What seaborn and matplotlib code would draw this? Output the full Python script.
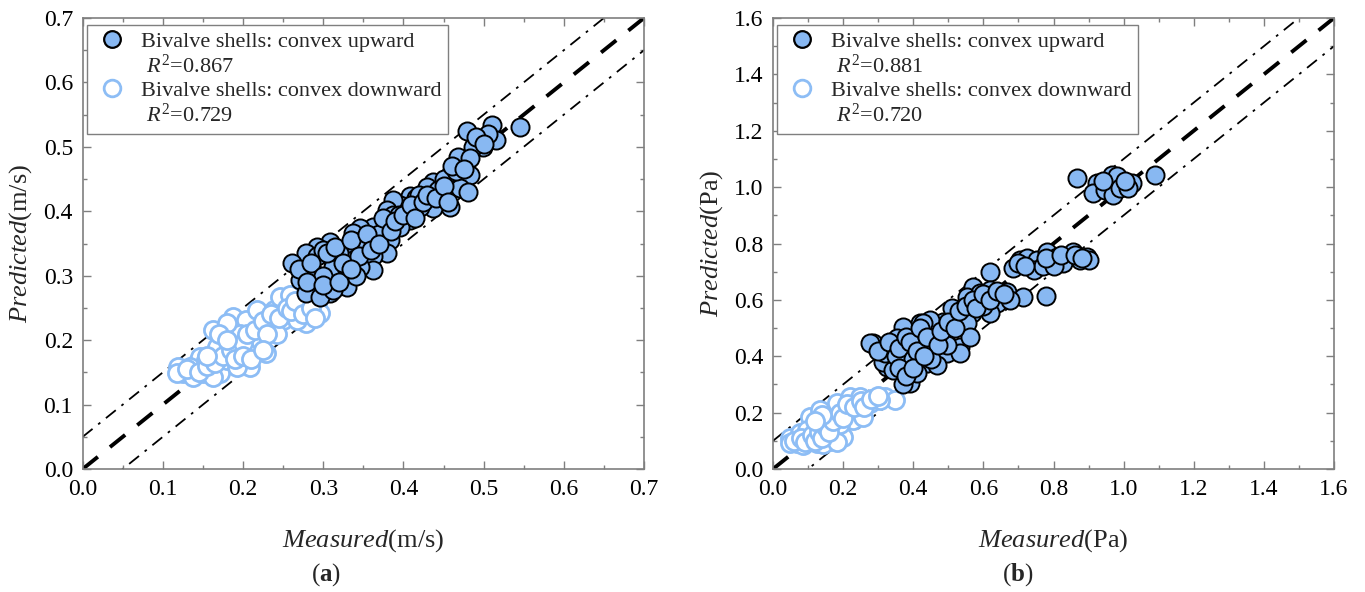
import numpy as np
import pandas as pd
import matplotlib
matplotlib.use("Agg")
import matplotlib.pyplot as plt
from matplotlib.ticker import MultipleLocator, AutoMinorLocator, FormatStrFormatter
from matplotlib.lines import Line2D
import seaborn as sns

# ---------------- data ----------------
a_up_x = [0.545, 0.479, 0.510, 0.516, 0.499, 0.487, 0.468, 0.483, 0.483, 0.458, 0.437, 0.429, 0.470, 0.480,
          0.458, 0.437, 0.421, 0.408, 0.396, 0.387, 0.379, 0.408, 0.396, 0.379, 0.362, 0.346, 0.337, 0.362,
          0.383, 0.379, 0.354, 0.329, 0.308, 0.292, 0.279, 0.292, 0.312, 0.337, 0.362, 0.362, 0.346, 0.312,
          0.288, 0.261, 0.271, 0.292, 0.312, 0.329, 0.308, 0.279, 0.341, 0.387, 0.416, 0.443, 0.450, 0.296,
          0.312, 0.300, 0.320, 0.350, 0.330, 0.370, 0.395, 0.420, 0.466, 0.505,
          0.270, 0.285, 0.300, 0.305, 0.315, 0.325, 0.335, 0.345, 0.355, 0.360, 0.370, 0.375, 0.385, 0.390,
          0.400, 0.410, 0.415, 0.425, 0.430, 0.440, 0.450, 0.455, 0.460, 0.475, 0.490, 0.500, 0.280, 0.300,
          0.320, 0.335]
a_up_y = [0.531, 0.524, 0.534, 0.511, 0.500, 0.500, 0.485, 0.482, 0.456, 0.456, 0.446, 0.438, 0.436, 0.430,
          0.407, 0.405, 0.407, 0.423, 0.410, 0.417, 0.402, 0.386, 0.376, 0.382, 0.376, 0.374, 0.366, 0.355,
          0.355, 0.335, 0.345, 0.343, 0.353, 0.345, 0.335, 0.330, 0.324, 0.324, 0.330, 0.309, 0.314, 0.314,
          0.304, 0.319, 0.293, 0.300, 0.286, 0.283, 0.273, 0.273, 0.300, 0.395, 0.420, 0.433, 0.450, 0.267,
          0.278, 0.340, 0.335, 0.355, 0.310, 0.365, 0.395, 0.425, 0.462, 0.520,
          0.310, 0.320, 0.300, 0.335, 0.345, 0.320, 0.355, 0.330, 0.365, 0.340, 0.350, 0.390, 0.370, 0.385,
          0.395, 0.410, 0.390, 0.415, 0.425, 0.420, 0.440, 0.415, 0.470, 0.465, 0.515, 0.505, 0.290, 0.285,
          0.290, 0.310]

a_down_x = [0.119, 0.125, 0.138, 0.150, 0.142, 0.159, 0.171, 0.180, 0.163, 0.188, 0.184, 0.204, 0.196, 0.209,
            0.213, 0.229, 0.217, 0.204, 0.217, 0.238, 0.246, 0.259, 0.250, 0.236, 0.271, 0.292, 0.296, 0.279,
            0.267, 0.171, 0.146, 0.134, 0.196, 0.180, 0.167, 0.221, 0.242, 0.192, 0.154, 0.163, 0.117,
            0.130, 0.145, 0.155, 0.165, 0.175, 0.185, 0.190, 0.200, 0.205, 0.215, 0.225, 0.230, 0.235,
            0.245, 0.255, 0.260, 0.265, 0.275, 0.285, 0.290, 0.170, 0.180, 0.155, 0.200, 0.210, 0.225]
a_down_y = [0.159, 0.149, 0.143, 0.149, 0.164, 0.159, 0.149, 0.169, 0.216, 0.236, 0.200, 0.185, 0.164, 0.159,
            0.190, 0.180, 0.221, 0.232, 0.247, 0.247, 0.267, 0.270, 0.231, 0.226, 0.252, 0.257, 0.242, 0.226,
            0.231, 0.180, 0.174, 0.159, 0.210, 0.226, 0.190, 0.200, 0.210, 0.159, 0.169, 0.143, 0.149,
            0.155, 0.150, 0.160, 0.165, 0.175, 0.185, 0.170, 0.195, 0.210, 0.215, 0.230, 0.210, 0.240,
            0.235, 0.250, 0.245, 0.260, 0.240, 0.250, 0.235, 0.210, 0.200, 0.175, 0.175, 0.170, 0.185]

b_up_x = [0.866, 0.923, 0.966, 0.980, 0.914, 0.947, 0.971, 0.990, 1.023, 1.013, 1.090, 1.003,
          0.685, 0.704, 0.724, 0.752, 0.781, 0.809, 0.857, 0.895, 0.828, 0.743, 0.770, 0.876, 0.900, 0.800,
          0.619, 0.780, 0.571, 0.552, 0.590, 0.619, 0.666, 0.714, 0.638, 0.676, 0.538, 0.567, 0.619, 0.600,
          0.552, 0.486, 0.448, 0.420, 0.372, 0.353, 0.286, 0.400, 0.457, 0.534, 0.490, 0.510,
          0.277, 0.324, 0.429, 0.457, 0.495, 0.534, 0.438, 0.372, 0.324, 0.314, 0.320, 0.391, 0.372,
          0.410, 0.343, 0.467, 0.495, 0.562,
          0.300, 0.330, 0.350, 0.360, 0.380, 0.390, 0.400, 0.410, 0.420, 0.440, 0.450, 0.470, 0.480,
          0.500, 0.520, 0.530, 0.550, 0.570, 0.580, 0.600, 0.620, 0.640, 0.660, 0.700, 0.720, 0.780,
          0.820, 0.860, 0.880, 0.940, 0.360, 0.380, 0.400, 0.430]
b_up_y = [1.031, 1.013, 1.043, 1.040, 0.978, 0.990, 0.972, 0.996, 1.013, 0.996, 1.043, 1.020,
          0.712, 0.741, 0.747, 0.741, 0.771, 0.753, 0.771, 0.753, 0.730, 0.706, 0.720, 0.741, 0.740, 0.720,
          0.700, 0.614, 0.647, 0.611, 0.623, 0.635, 0.629, 0.611, 0.588, 0.600, 0.552, 0.552, 0.552, 0.580,
          0.517, 0.523, 0.529, 0.517, 0.505, 0.464, 0.446, 0.446, 0.430, 0.434, 0.470, 0.570,
          0.446, 0.434, 0.517, 0.416, 0.410, 0.410, 0.375, 0.375, 0.363, 0.380, 0.410, 0.304, 0.300,
          0.340, 0.350, 0.370, 0.440, 0.469,
          0.420, 0.450, 0.400, 0.430, 0.470, 0.450, 0.390, 0.420, 0.500, 0.470, 0.390, 0.440, 0.490,
          0.520, 0.500, 0.560, 0.580, 0.600, 0.570, 0.620, 0.600, 0.630, 0.620, 0.730, 0.720, 0.750,
          0.760, 0.760, 0.750, 1.020, 0.360, 0.330, 0.360, 0.400]

b_down_x = [0.048, 0.068, 0.096, 0.125, 0.153, 0.162, 0.200, 0.115, 0.106, 0.134, 0.162, 0.182, 0.210,
            0.239, 0.220, 0.248, 0.277, 0.320, 0.348, 0.305, 0.077, 0.048, 0.086, 0.143, 0.182, 0.229,
            0.190, 0.134, 0.258, 0.096,
            0.060, 0.080, 0.090, 0.110, 0.120, 0.130, 0.140, 0.150, 0.160, 0.170, 0.190, 0.200, 0.210,
            0.230, 0.250, 0.260, 0.280, 0.300, 0.140, 0.120]
b_down_y = [0.109, 0.091, 0.115, 0.091, 0.127, 0.100, 0.115, 0.138, 0.186, 0.209, 0.186, 0.233, 0.209,
            0.209, 0.256, 0.256, 0.233, 0.256, 0.245, 0.245, 0.127, 0.091, 0.085, 0.090, 0.095, 0.174,
            0.160, 0.160, 0.186, 0.140,
            0.100, 0.110, 0.095, 0.120, 0.100, 0.130, 0.110, 0.150, 0.130, 0.170, 0.200, 0.180, 0.230,
            0.220, 0.240, 0.220, 0.250, 0.260, 0.190, 0.170]

r2_a = ["0.867", "0.729"]
r2_b = ["0.881", "0.720"]
series_names = ["Bivalve shells: convex upward", "Bivalve shells: convex downward"]
limits = [0.7, 1.6]
bands = [0.05, 0.1]
majors = [0.1, 0.2]
units = ["m/s", "Pa"]
panel_tags = ["a", "b"]

# ---------------- style ----------------
sns.set_style("ticks")
plt.rcParams.update({
    "font.family": ["Liberation Serif", "DejaVu Serif"],
    "mathtext.fontset": "custom",
    "mathtext.rm": "Liberation Serif",
    "mathtext.it": "Liberation Serif:italic",
    "mathtext.bf": "Liberation Serif:bold",
})

FILL = "#88B8F2"
EDGE_LIGHT = "#8DBDF5"
GRAY = "#7f7f7f"

W, H = 1365, 592
fig = plt.figure(figsize=(W / 100, H / 100), dpi=100)
ax_a = fig.add_axes([82.7 / W, 1 - 469 / H, 561.3 / W, 451 / H])
ax_b = fig.add_axes([773 / W, 1 - 469 / H, 561 / W, 451 / H])

panels = [
    (ax_a, a_up_x, a_up_y, a_down_x, a_down_y, r2_a),
    (ax_b, b_up_x, b_up_y, b_down_x, b_down_y, r2_b),
]

for i, (ax, ux, uy, dx, dy, r2) in enumerate(panels):
    lim = limits[i]
    band = bands[i]
    ref = np.array([0.0, lim])
    ax.plot(ref, ref, color="black", lw=2.8, ls=(0, (5, 4)), zorder=1)
    ax.plot(ref, ref + band, color="black", lw=1.3, ls=(0, (7, 4, 1.5, 4)), zorder=1)
    ax.plot(ref, ref - band, color="black", lw=1.3, ls=(0, (7, 4, 1.5, 4)), zorder=1)

    df_up = pd.DataFrame({"Measured": ux, "Predicted": uy})
    df_dn = pd.DataFrame({"Measured": dx, "Predicted": dy})
    sns.scatterplot(data=df_dn, x="Measured", y="Predicted", ax=ax, s=170, color="white",
                    edgecolor=EDGE_LIGHT, linewidth=2.0, zorder=3, legend=False)
    sns.scatterplot(data=df_up, x="Measured", y="Predicted", ax=ax, s=170, color=FILL,
                    edgecolor="black", linewidth=1.4, zorder=4, legend=False)

    ax.set_xlim(0, lim)
    ax.set_ylim(0, lim)
    ax.xaxis.set_major_locator(MultipleLocator(majors[i]))
    ax.yaxis.set_major_locator(MultipleLocator(majors[i]))
    ax.xaxis.set_minor_locator(AutoMinorLocator(2))
    ax.yaxis.set_minor_locator(AutoMinorLocator(2))
    ax.xaxis.set_major_formatter(FormatStrFormatter("%.1f"))
    ax.yaxis.set_major_formatter(FormatStrFormatter("%.1f"))
    ax.tick_params(which="both", direction="in", top=True, right=True, color=GRAY,
                   labelcolor="black", labelsize=17, width=1.0)
    ax.tick_params(which="major", length=6, pad=7)
    ax.tick_params(which="minor", length=3)
    for sp in ax.spines.values():
        sp.set_color(GRAY)
        sp.set_linewidth(1.2)

    ax.set_xlabel(r"$\mathit{Measured}$(" + units[i] + ")", fontsize=19)
    ax.set_ylabel(r"$\mathit{Predicted}$(" + units[i] + ")", fontsize=19)
    ax.xaxis.set_label_coords(0.5, -0.128)
    ax.yaxis.set_label_coords(-0.086, 0.5)

    handles = [
        Line2D([], [], marker="o", ls="none", markersize=12, markerfacecolor=FILL,
               markeredgecolor="black", markeredgewidth=1.6),
        Line2D([], [], ls="none"),
        Line2D([], [], marker="o", ls="none", markersize=12, markerfacecolor="white",
               markeredgecolor=EDGE_LIGHT, markeredgewidth=2.0),
        Line2D([], [], ls="none"),
    ]
    labels = [series_names[0], r" $\mathit{R}^{\mathrm{2}}$=" + r2[0],
              series_names[1], r" $\mathit{R}^{\mathrm{2}}$=" + r2[1]]
    leg = ax.legend(handles, labels, loc="upper left", bbox_to_anchor=(0.008, 0.985),
                    fontsize=16, frameon=True, fancybox=False, framealpha=1,
                    edgecolor=GRAY, labelspacing=0.12, handletextpad=0.5,
                    borderpad=0.3, handlelength=1.6, borderaxespad=0)
    leg.get_frame().set_linewidth(1.0)

fig.text(326 / W, 1 - 575 / H, r"($\mathbf{a}$)", ha="center", va="center", fontsize=18)
fig.text(1018 / W, 1 - 575 / H, r"($\mathbf{b}$)", ha="center", va="center", fontsize=18)

fig.savefig("out.png", dpi=100)
